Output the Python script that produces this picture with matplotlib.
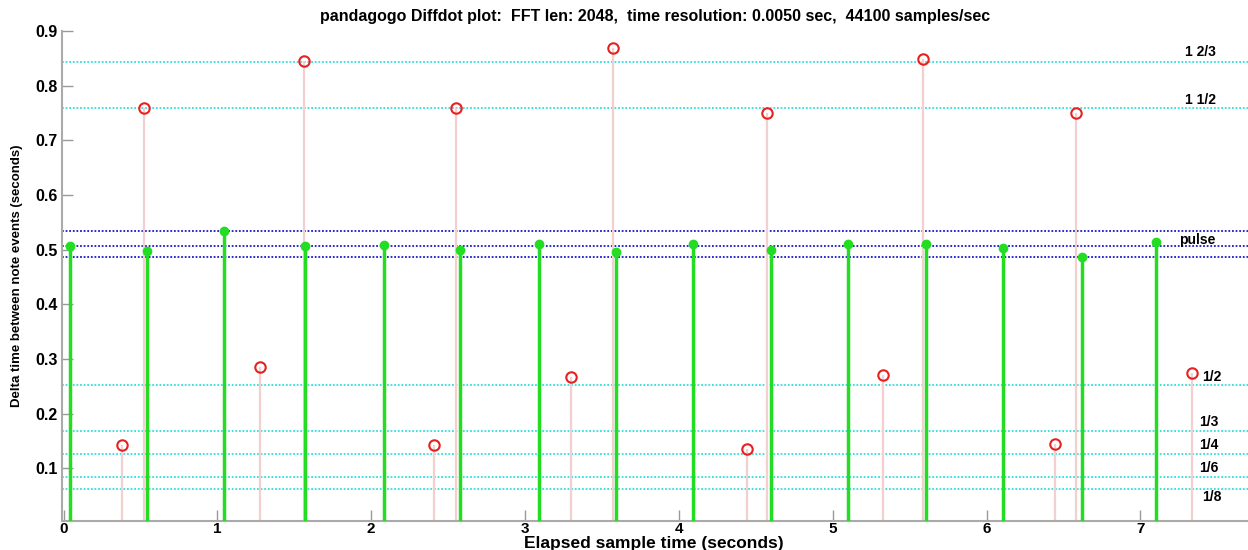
import matplotlib
matplotlib.use("Agg")
import matplotlib.pyplot as plt

# pulse-aligned note events (green)
pulse_t = [0.04, 0.545, 1.045, 1.57, 2.08, 2.58, 3.09, 3.59, 4.09, 4.60, 5.10, 5.605, 6.11, 6.62, 7.10]
pulse_dt = [0.506, 0.497, 0.534, 0.506, 0.508, 0.500, 0.511, 0.495, 0.511, 0.499, 0.510, 0.511, 0.503, 0.487, 0.514]

# off-pulse note events (red)
off_t = [0.377, 0.52, 1.28, 1.56, 2.41, 2.55, 3.30, 3.57, 4.44, 4.57, 5.325, 5.59, 6.445, 6.58, 7.335]
off_dt = [0.142, 0.759, 0.285, 0.845, 0.142, 0.759, 0.268, 0.869, 0.135, 0.750, 0.271, 0.849, 0.144, 0.750, 0.274]

# reference levels
frac_levels = [0.844, 0.759, 0.253, 0.169, 0.1265, 0.085, 0.063]
pulse_levels = [0.534, 0.506, 0.486]
label_text = ["1 2/3", "1 1/2", "pulse", "1/2", "1/3", "1/4", "1/6", "1/8"]
label_x = [7.29, 7.29, 7.25, 7.40, 7.38, 7.38, 7.38, 7.40]
label_y = [0.862, 0.773, 0.518, 0.267, 0.184, 0.143, 0.100, 0.047]

xticks = [0, 1, 2, 3, 4, 5, 6, 7]
yticks = [0.1, 0.2, 0.3, 0.4, 0.5, 0.6, 0.7, 0.8, 0.9]


def main():
    plt.rcParams["font.family"] = "Liberation Sans"
    plt.rcParams["xtick.direction"] = "in"
    plt.rcParams["ytick.direction"] = "in"

    fig = plt.figure(figsize=(12.48, 5.5), dpi=100)
    ax = fig.add_axes([0.0497, 0.053, 0.9503, 0.8907])

    for y in frac_levels:
        ax.axhline(y, color="#33dddd", lw=1.3, ls=(0, (1, 1)), zorder=1)
    for y in pulse_levels:
        ax.axhline(y, color="#1a1acc", lw=1.3, ls=(0, (1, 1)), zorder=1)

    ax.vlines(off_t, 0, off_dt, color="#f2d0d0", lw=1.6, zorder=2)
    ax.plot(off_t, off_dt, "o", mfc="none", mec="#e82020", mew=1.5, ms=7.5, zorder=4)

    ax.vlines(pulse_t, 0, pulse_dt, color="#22dd22", lw=2.5, zorder=3)
    ax.plot(pulse_t, pulse_dt, "o", color="#22dd22", ms=6, zorder=4)

    for s, x, y in zip(label_text, label_x, label_y):
        ax.text(x, y, s, fontsize=10, fontweight="bold", va="center", ha="left")

    ax.set_xlim(-0.01, 7.7)
    ax.set_ylim(0.004, 0.9)
    ax.set_xticks(xticks)
    ax.set_yticks(yticks)
    ax.set_xticklabels([str(v) for v in xticks], fontsize=11, fontweight="bold")
    ax.set_yticklabels([f"{v:.1f}" for v in yticks], fontsize=11.5, fontweight="bold")
    ax.tick_params(length=8, width=1, color="#999999")
    ax.tick_params(axis="x", pad=1)
    ax.tick_params(axis="y", pad=3)
    for side in ["top", "right"]:
        ax.spines[side].set_visible(False)
    for side in ["left", "bottom"]:
        ax.spines[side].set_color("#aaaaaa")
        ax.spines[side].set_linewidth(1.5)

    ax.set_title("pandagogo Diffdot plot:  FFT len: 2048,  time resolution: 0.0050 sec,  44100 samples/sec",
                 fontsize=11.5, fontweight="bold", pad=7)
    ax.set_xlabel("Elapsed sample time (seconds)", fontsize=12.5, fontweight="bold", va="center")
    ax.xaxis.set_label_coords(0.499, -0.046)
    ax.set_ylabel("Delta time between note events (seconds)", fontsize=9.5, fontweight="bold", labelpad=9)

    fig.savefig("out.png", dpi=100)
    plt.close(fig)


if __name__ == "__main__":
    main()
